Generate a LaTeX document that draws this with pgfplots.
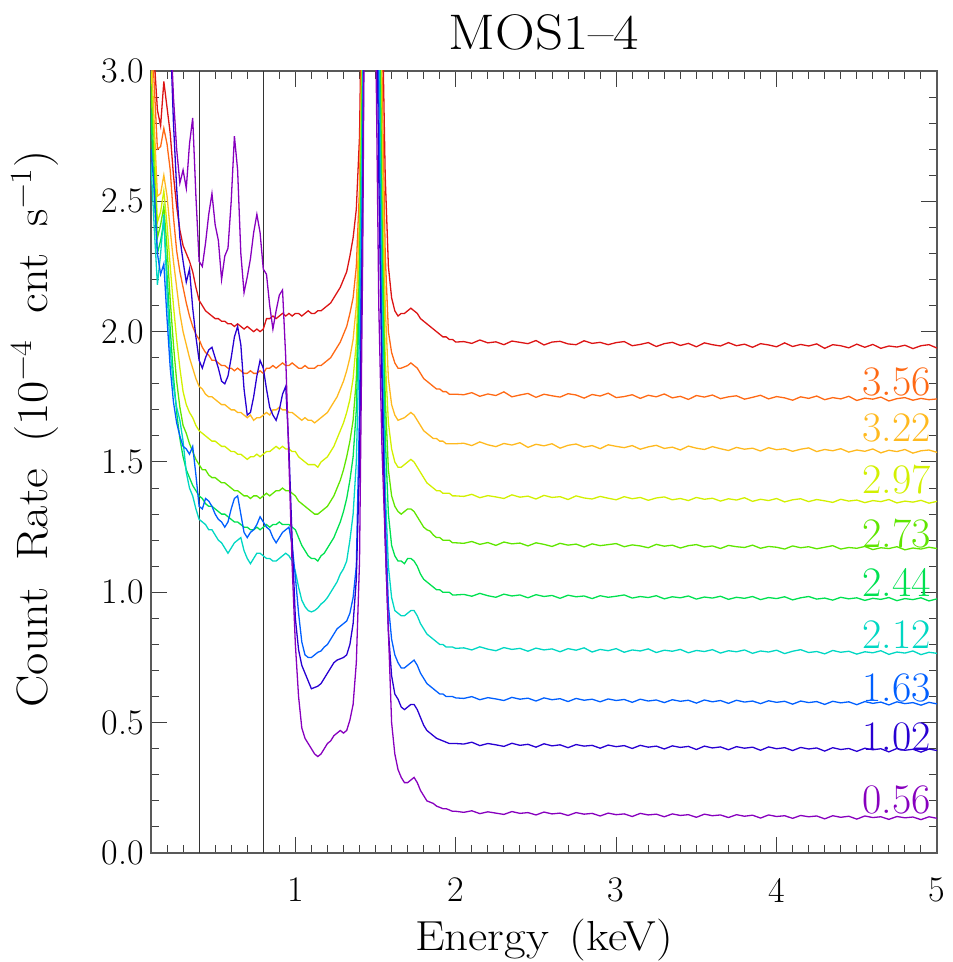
\documentclass[border=0pt]{standalone}
\usepackage{fontspec}
\usepackage{graphicx}
\usepackage{pgfplots}
\usepackage{pgfplotstable}
\pgfplotsset{compat=1.18}
\definecolor{cR}{RGB}{220,20,20}
\definecolor{cO}{RGB}{255,105,20}
\definecolor{cLO}{RGB}{255,185,30}
\definecolor{cY}{RGB}{210,240,0}
\definecolor{cGA}{RGB}{95,230,0}
\definecolor{cGB}{RGB}{0,225,80}
\definecolor{cC}{RGB}{0,215,195}
\definecolor{cB}{RGB}{0,95,255}
\definecolor{cDB}{RGB}{40,0,210}
\definecolor{cP}{RGB}{135,0,190}
\pgfplotstableread{
E R O LO Y GA GB C B DB P
0.10 3.30 3.20 3.10 3.00 2.95 2.85 2.65 2.70 3.50 3.50
0.12 3.05 2.95 2.80 2.72 2.62 2.52 2.40 2.55 3.50 3.50
0.14 2.85 2.70 2.52 2.42 2.36 2.30 2.18 2.30 3.50 3.50
0.16 2.79 2.71 2.53 2.46 2.41 2.35 2.30 2.22 3.50 3.50
0.18 2.96 2.78 2.60 2.54 2.48 2.42 2.45 2.26 3.50 3.50
0.20 2.86 2.72 2.52 2.41 2.32 2.22 2.15 2.05 3.40 3.50
0.22 2.76 2.62 2.39 2.25 2.12 2.01 1.93 1.86 3.15 3.20
0.24 2.60 2.44 2.27 2.10 1.95 1.83 1.79 1.73 2.80 2.90
0.26 2.48 2.31 2.17 1.97 1.81 1.69 1.71 1.65 2.55 2.70
0.28 2.39 2.23 2.07 1.86 1.71 1.59 1.66 1.60 2.36 2.57
0.30 2.33 2.17 2.00 1.77 1.64 1.52 1.58 1.56 2.27 2.62
0.32 2.30 2.11 1.95 1.72 1.61 1.47 1.46 1.55 2.19 2.55
0.34 2.27 2.06 1.90 1.69 1.57 1.44 1.40 1.53 2.24 2.72
0.36 2.23 2.02 1.86 1.67 1.54 1.41 1.37 1.56 2.09 2.82
0.38 2.17 1.99 1.82 1.64 1.51 1.39 1.32 1.45 1.98 2.52
0.40 2.12 1.97 1.79 1.62 1.49 1.37 1.28 1.33 1.89 2.27
0.42 2.10 1.94 1.78 1.61 1.47 1.36 1.27 1.32 1.86 2.25
0.44 2.08 1.92 1.76 1.60 1.47 1.34 1.26 1.36 1.90 2.34
0.46 2.07 1.91 1.75 1.59 1.45 1.33 1.24 1.35 1.93 2.45
0.48 2.06 1.89 1.75 1.58 1.44 1.33 1.24 1.33 1.94 2.53
0.50 2.05 1.89 1.74 1.58 1.44 1.32 1.22 1.30 1.90 2.41
0.52 2.05 1.88 1.73 1.57 1.43 1.31 1.20 1.28 1.86 2.35
0.54 2.04 1.87 1.72 1.56 1.42 1.30 1.19 1.27 1.81 2.20
0.56 2.04 1.87 1.72 1.56 1.42 1.30 1.17 1.25 1.80 2.29
0.58 2.03 1.86 1.71 1.55 1.41 1.29 1.15 1.27 1.83 2.32
0.60 2.03 1.86 1.70 1.54 1.40 1.28 1.17 1.32 1.90 2.50
0.62 2.02 1.85 1.70 1.54 1.39 1.27 1.19 1.36 1.98 2.75
0.64 2.03 1.86 1.69 1.53 1.39 1.27 1.20 1.37 2.02 2.62
0.66 2.02 1.85 1.69 1.53 1.38 1.26 1.21 1.30 1.95 2.30
0.68 2.01 1.84 1.68 1.52 1.37 1.25 1.16 1.23 1.78 2.15
0.70 2.02 1.84 1.67 1.51 1.37 1.25 1.13 1.21 1.68 2.21
0.72 2.01 1.85 1.68 1.52 1.36 1.24 1.11 1.23 1.69 2.28
0.74 2.00 1.84 1.66 1.52 1.37 1.24 1.13 1.24 1.75 2.38
0.76 2.01 1.84 1.67 1.53 1.37 1.25 1.15 1.26 1.83 2.45
0.78 2.00 1.85 1.67 1.52 1.36 1.24 1.15 1.29 1.89 2.38
0.80 2.01 1.84 1.68 1.53 1.37 1.25 1.14 1.27 1.86 2.24
0.82 2.05 1.86 1.69 1.54 1.38 1.26 1.13 1.25 1.78 2.22
0.84 2.05 1.86 1.68 1.54 1.37 1.25 1.13 1.24 1.71 2.10
0.86 2.06 1.87 1.70 1.55 1.38 1.26 1.12 1.21 1.68 2.01
0.88 2.05 1.86 1.70 1.56 1.39 1.26 1.12 1.19 1.66 2.08
0.90 2.06 1.87 1.71 1.55 1.39 1.27 1.13 1.21 1.70 2.14
0.92 2.07 1.88 1.70 1.56 1.40 1.26 1.14 1.23 1.76 2.16
0.94 2.06 1.87 1.70 1.55 1.39 1.26 1.15 1.24 1.79 1.90
0.96 2.07 1.87 1.69 1.55 1.39 1.26 1.14 1.25 1.55 1.50
0.98 2.06 1.88 1.69 1.54 1.38 1.25 1.12 1.18 1.20 1.10
1.00 2.07 1.87 1.68 1.54 1.37 1.24 1.08 1.06 0.90 0.80
1.02 2.07 1.86 1.67 1.52 1.35 1.21 1.02 0.92 0.78 0.60
1.04 2.06 1.86 1.66 1.51 1.34 1.18 0.97 0.81 0.72 0.48
1.06 2.07 1.87 1.67 1.50 1.33 1.16 0.945 0.76 0.69 0.44
1.08 2.08 1.86 1.66 1.49 1.32 1.14 0.93 0.75 0.66 0.42
1.10 2.07 1.86 1.66 1.49 1.31 1.13 0.925 0.75 0.63 0.40
1.12 2.07 1.86 1.65 1.49 1.30 1.13 0.93 0.76 0.635 0.38
1.14 2.08 1.87 1.66 1.48 1.30 1.12 0.94 0.77 0.64 0.37
1.16 2.08 1.87 1.67 1.50 1.31 1.14 0.955 0.775 0.65 0.38
1.18 2.09 1.88 1.68 1.51 1.32 1.15 0.965 0.79 0.67 0.40
1.20 2.10 1.89 1.69 1.52 1.33 1.17 0.98 0.80 0.69 0.42
1.22 2.11 1.90 1.71 1.54 1.35 1.19 1.00 0.82 0.71 0.43
1.24 2.13 1.92 1.73 1.56 1.37 1.21 1.02 0.84 0.73 0.45
1.26 2.15 1.94 1.75 1.59 1.40 1.24 1.04 0.86 0.74 0.46
1.28 2.17 1.96 1.78 1.62 1.43 1.27 1.07 0.87 0.745 0.47
1.30 2.20 1.99 1.81 1.65 1.47 1.31 1.09 0.88 0.75 0.46
1.32 2.23 2.02 1.85 1.69 1.52 1.36 1.12 0.89 0.76 0.47
1.34 2.29 2.07 1.90 1.74 1.58 1.43 1.20 0.92 0.80 0.51
1.36 2.36 2.13 1.97 1.82 1.66 1.52 1.30 0.98 0.88 0.57
1.38 2.47 2.25 2.10 1.96 1.82 1.70 1.50 1.10 1.05 0.73
1.40 2.75 2.55 2.45 2.35 2.25 2.15 2.00 1.70 1.50 1.12
1.42 3.6 3.4 3.3 3.2 3.1 3.0 2.9 2.7 2.5 2.3
1.44 6.0 5.8 5.6 5.4 5.2 5.0 4.8 4.6 4.4 4.2
1.47 20 20 20 20 20 20 20 20 20 20
1.50 8.0 7.0 6.5 6.0 5.5 5.0 4.5 4.0 3.6 3.2
1.52 4.6 4.2 4.0 3.8 3.6 3.4 3.2 2.9 2.6 2.1
1.54 3.3 3.0 2.8 2.6 2.45 2.3 2.1 1.9 1.8 1.55
1.56 2.6 2.3 2.1 1.9 1.75 1.6 1.4 1.3 1.2 1.2
1.58 2.25 2.0 1.82 1.65 1.47 1.30 1.10 0.95 0.85 0.85
1.60 2.13 1.92 1.72 1.55 1.37 1.18 0.98 0.82 0.68 0.50
1.62 2.08 1.88 1.68 1.50 1.33 1.14 0.93 0.76 0.61 0.38
1.64 2.06 1.86 1.66 1.48 1.31 1.12 0.92 0.73 0.59 0.32
1.66 2.07 1.86 1.665 1.48 1.30 1.12 0.91 0.71 0.56 0.29
1.68 2.07 1.865 1.67 1.49 1.31 1.11 0.91 0.71 0.55 0.27
1.70 2.08 1.87 1.68 1.50 1.32 1.13 0.92 0.72 0.56 0.27
1.72 2.09 1.88 1.69 1.51 1.32 1.13 0.93 0.73 0.57 0.28
1.74 2.08 1.87 1.68 1.50 1.31 1.12 0.93 0.74 0.57 0.29
1.76 2.07 1.86 1.66 1.48 1.29 1.10 0.91 0.72 0.55 0.27
1.78 2.05 1.84 1.64 1.46 1.27 1.07 0.88 0.69 0.52 0.24
1.80 2.04 1.82 1.62 1.44 1.25 1.05 0.86 0.67 0.49 0.22
1.82 2.03 1.81 1.61 1.42 1.24 1.04 0.84 0.65 0.47 0.20
1.84 2.02 1.80 1.60 1.41 1.235 1.03 0.83 0.64 0.46 0.195
1.86 2.01 1.79 1.59 1.40 1.22 1.02 0.82 0.63 0.45 0.19
1.88 2.00 1.78 1.59 1.39 1.21 1.01 0.81 0.62 0.44 0.18
1.90 1.99 1.78 1.58 1.39 1.21 1.01 0.80 0.61 0.435 0.175
1.92 1.98 1.77 1.58 1.38 1.20 1.00 0.80 0.61 0.43 0.17
1.94 1.98 1.77 1.57 1.38 1.20 1.00 0.79 0.60 0.425 0.17
1.96 1.97 1.76 1.57 1.38 1.20 1.00 0.79 0.60 0.42 0.165
1.98 1.97 1.76 1.57 1.37 1.19 0.99 0.79 0.60 0.42 0.16
2.00 1.96 1.76 1.57 1.37 1.19 0.99 0.785 0.595 0.42 0.16
2.05 1.962 1.758 1.572 1.368 1.188 0.992 0.787 0.593 0.418 0.156
2.10 1.955 1.766 1.563 1.376 1.195 0.985 0.779 0.600 0.425 0.162
2.15 1.968 1.752 1.577 1.363 1.184 0.996 0.791 0.588 0.412 0.151
2.20 1.957 1.761 1.566 1.371 1.191 0.987 0.782 0.596 0.420 0.158
2.25 1.961 1.755 1.559 1.366 1.180 0.981 0.776 0.591 0.415 0.153
2.30 1.950 1.769 1.571 1.360 1.193 0.993 0.788 0.585 0.409 0.148
2.35 1.964 1.750 1.565 1.374 1.186 0.986 0.781 0.597 0.421 0.159
2.40 1.959 1.757 1.574 1.365 1.189 0.990 0.785 0.590 0.413 0.152
2.45 1.954 1.763 1.556 1.369 1.178 0.979 0.774 0.594 0.417 0.155
2.50 1.966 1.748 1.568 1.358 1.190 0.991 0.786 0.583 0.406 0.146
2.55 1.949 1.760 1.562 1.372 1.184 0.984 0.779 0.595 0.419 0.157
2.60 1.960 1.754 1.570 1.364 1.176 0.988 0.783 0.588 0.411 0.150
2.65 1.963 1.749 1.553 1.367 1.188 0.977 0.772 0.592 0.415 0.153
2.70 1.953 1.762 1.564 1.356 1.181 0.989 0.784 0.581 0.404 0.144
2.75 1.950 1.757 1.569 1.370 1.185 0.983 0.778 0.593 0.416 0.155
2.80 1.965 1.745 1.557 1.362 1.174 0.986 0.787 0.586 0.410 0.149
2.85 1.955 1.759 1.563 1.358 1.186 0.976 0.771 0.590 0.413 0.152
2.90 1.959 1.753 1.551 1.368 1.179 0.987 0.781 0.580 0.402 0.142
2.95 1.950 1.764 1.566 1.361 1.183 0.981 0.776 0.591 0.414 0.153
3.00 1.958 1.747 1.560 1.355 1.187 0.985 0.784 0.585 0.408 0.147
3.05 1.962 1.751 1.555 1.367 1.175 0.990 0.770 0.589 0.412 0.150
3.10 1.946 1.758 1.563 1.359 1.182 0.978 0.779 0.578 0.401 0.140
3.15 1.951 1.744 1.549 1.364 1.178 0.984 0.775 0.590 0.413 0.152
3.20 1.958 1.756 1.558 1.353 1.171 0.980 0.783 0.583 0.406 0.146
3.25 1.943 1.750 1.564 1.362 1.184 0.987 0.769 0.587 0.410 0.149
3.30 1.954 1.761 1.552 1.366 1.177 0.975 0.778 0.577 0.399 0.139
3.35 1.959 1.746 1.557 1.355 1.181 0.983 0.774 0.588 0.411 0.150
3.40 1.947 1.752 1.546 1.360 1.170 0.979 0.781 0.582 0.405 0.144
3.45 1.955 1.740 1.561 1.352 1.179 0.986 0.768 0.586 0.409 0.147
3.50 1.942 1.755 1.553 1.364 1.183 0.974 0.777 0.575 0.397 0.137
3.55 1.957 1.749 1.548 1.357 1.174 0.982 0.773 0.587 0.410 0.149
3.60 1.950 1.757 1.559 1.361 1.178 0.978 0.780 0.580 0.403 0.143
3.65 1.945 1.743 1.551 1.350 1.168 0.985 0.767 0.585 0.407 0.146
3.70 1.958 1.750 1.544 1.359 1.180 0.973 0.776 0.574 0.396 0.136
3.75 1.946 1.754 1.556 1.354 1.175 0.981 0.772 0.586 0.408 0.147
3.80 1.952 1.741 1.549 1.363 1.172 0.977 0.779 0.579 0.402 0.141
3.85 1.940 1.748 1.553 1.349 1.181 0.984 0.766 0.583 0.406 0.145
3.90 1.954 1.756 1.542 1.357 1.169 0.972 0.775 0.573 0.394 0.134
3.95 1.949 1.742 1.555 1.352 1.176 0.980 0.771 0.584 0.407 0.146
4.00 1.942 1.751 1.547 1.360 1.173 0.976 0.778 0.578 0.400 0.140
4.05 1.957 1.746 1.551 1.347 1.166 0.983 0.765 0.582 0.404 0.143
4.10 1.943 1.737 1.541 1.355 1.178 0.971 0.774 0.571 0.393 0.133
4.15 1.951 1.750 1.549 1.359 1.171 0.979 0.780 0.583 0.405 0.144
4.20 1.945 1.744 1.554 1.348 1.175 0.984 0.769 0.577 0.399 0.139
4.25 1.953 1.753 1.540 1.356 1.167 0.974 0.773 0.581 0.403 0.142
4.30 1.936 1.739 1.548 1.351 1.173 0.978 0.764 0.570 0.391 0.131
4.35 1.950 1.747 1.543 1.345 1.179 0.970 0.777 0.582 0.404 0.143
4.40 1.946 1.742 1.551 1.357 1.166 0.981 0.770 0.576 0.397 0.137
4.45 1.938 1.752 1.538 1.350 1.172 0.975 0.774 0.580 0.401 0.141
4.50 1.952 1.736 1.546 1.354 1.169 0.979 0.763 0.569 0.390 0.130
4.55 1.940 1.745 1.541 1.344 1.176 0.969 0.772 0.581 0.402 0.142
4.60 1.951 1.741 1.550 1.352 1.164 0.977 0.768 0.574 0.396 0.136
4.65 1.936 1.749 1.535 1.348 1.171 0.973 0.776 0.579 0.400 0.139
4.70 1.945 1.734 1.545 1.356 1.168 0.980 0.762 0.568 0.388 0.129
4.75 1.941 1.743 1.540 1.343 1.175 0.968 0.771 0.580 0.401 0.140
4.80 1.948 1.747 1.548 1.350 1.163 0.976 0.767 0.573 0.394 0.135
4.85 1.935 1.737 1.534 1.346 1.170 0.972 0.775 0.577 0.398 0.138
4.90 1.946 1.744 1.543 1.353 1.166 0.979 0.761 0.567 0.387 0.128
4.95 1.950 1.739 1.546 1.342 1.173 0.967 0.770 0.578 0.399 0.139
5.00 1.937 1.742 1.537 1.349 1.168 0.975 0.766 0.572 0.393 0.133
}\spec
\begin{document}
\begin{tikzpicture}
\begin{axis}[name=ax, scale only axis, width=393pt, height=391pt,
  xmin=0.1, xmax=5, ymin=0, ymax=3,
  xtick={1,2,3,4,5}, xticklabels={1,2,3,4,5},
  minor xtick={0.2,0.3,0.4,0.5,0.6,0.7,0.8,0.9,1.1,1.2,1.3,1.4,1.5,1.6,1.7,1.8,1.9,2.1,2.2,2.3,2.4,2.5,2.6,2.7,2.8,2.9,3.1,3.2,3.3,3.4,3.5,3.6,3.7,3.8,3.9,4.1,4.2,4.3,4.4,4.5,4.6,4.7,4.8,4.9},
  ytick={0,0.5,1,1.5,2,2.5,3}, yticklabels={0.0,0.5,1.0,1.5,2.0,2.5,3.0},
  minor y tick num=4,
  tick align=inside, tick pos=both, ticklabel pos=left,
  major tick length=8pt, minor tick length=4pt,
  every tick/.style={black!75, line width=0.5pt},
  axis line style={black!65, line width=0.8pt},
  tick label style={font=\fontsize{18}{18}\selectfont},
  xticklabel style={yshift=-9pt},
  title={\scalebox{1.1}[1]{MOS1--4}},
  title style={at={(axis description cs:0.5,1.034)}, anchor=center, font=\fontsize{25}{25}\selectfont},
  xlabel={\scalebox{1.12}[1]{Energy\hspace{0.45em}(keV)}},
  every axis x label/.style={at={(axis description cs:0.5,-0.111)}, anchor=center, font=\fontsize{21}{21}\selectfont},
  ylabel={\scalebox{1.1}[1]{Count\hspace{0.55em}Rate\hspace{0.55em}(10\textsuperscript{−4}\hspace{0.55em}cnt\hspace{0.55em}s\textsuperscript{−1})}},
  every axis y label/.style={at={(axis description cs:-0.148,0.542)}, anchor=center, rotate=90, font=\fontsize{22}{22}\selectfont},
  every axis plot/.append style={line width=0.65pt},
  clip=true,
]
\addplot[black!80, line width=0.5pt] coordinates {(0.4,0) (0.4,3)};
\addplot[black!80, line width=0.5pt] coordinates {(0.8,0) (0.8,3)};
\addplot[cR] table[x=E,y=R] {\spec};
\addplot[cO] table[x=E,y=O] {\spec};
\addplot[cLO] table[x=E,y=LO] {\spec};
\addplot[cY] table[x=E,y=Y] {\spec};
\addplot[cGA] table[x=E,y=GA] {\spec};
\addplot[cGB] table[x=E,y=GB] {\spec};
\addplot[cC] table[x=E,y=C] {\spec};
\addplot[cB] table[x=E,y=B] {\spec};
\addplot[cDB] table[x=E,y=DB] {\spec};
\addplot[cP] table[x=E,y=P] {\spec};
\begin{scope}[every node/.style={anchor=east, inner sep=0pt, font=\fontsize{21}{21}\selectfont}]
\node[text=cO] at (axis cs:4.965,1.807) {3.56};
\node[text=cLO] at (axis cs:4.965,1.630) {3.22};
\node[text=cY] at (axis cs:4.965,1.431) {2.97};
\node[text=cGA] at (axis cs:4.965,1.227) {2.73};
\node[text=cGB] at (axis cs:4.965,1.036) {2.44};
\node[text=cC] at (axis cs:4.965,0.836) {2.12};
\node[text=cB] at (axis cs:4.965,0.633) {1.63};
\node[text=cDB] at (axis cs:4.965,0.445) {1.02};
\node[text=cP] at (axis cs:4.965,0.203) {0.56};
\end{scope}
\end{axis}
\pgfresetboundingbox
\path ([shift={(-75.5pt,-54.5pt)}]ax.south west) rectangle ([shift={(7.5pt,35.5pt)}]ax.north east);
\end{tikzpicture}
\end{document}
